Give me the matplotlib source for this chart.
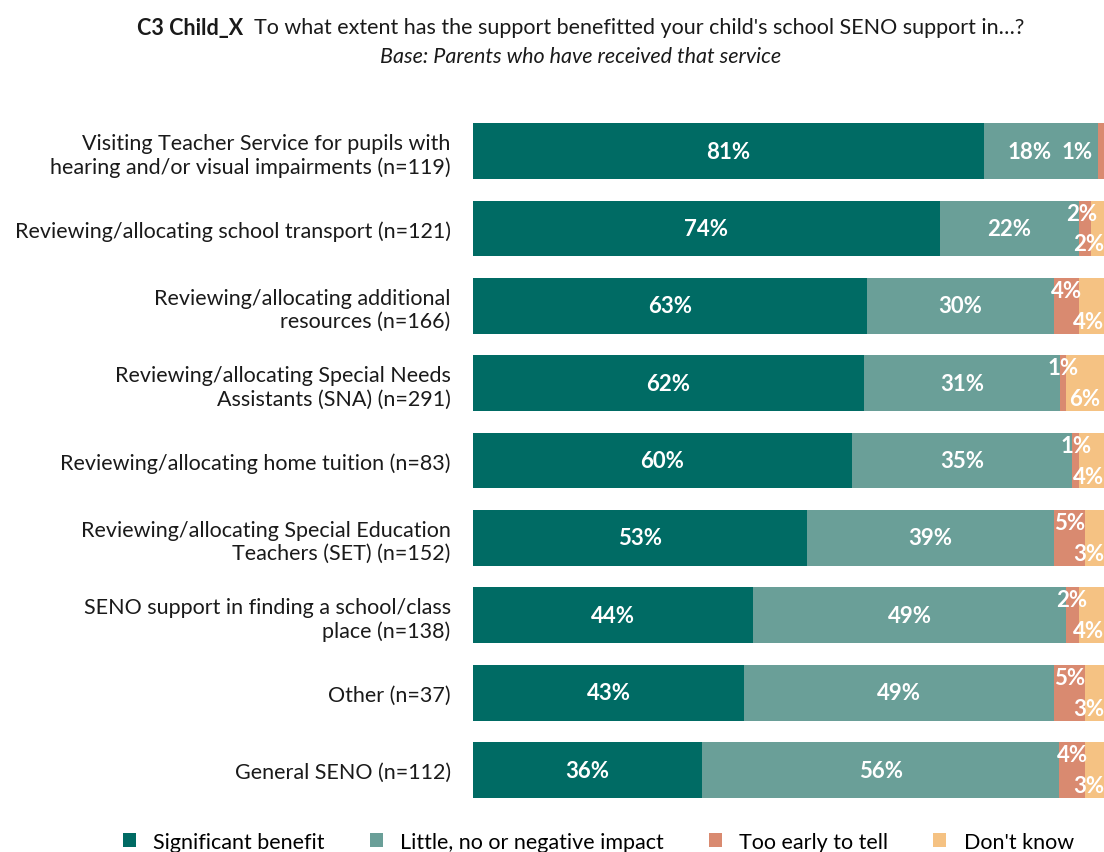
import matplotlib
matplotlib.use("Agg")
import matplotlib.pyplot as plt

plt.rcParams['font.family'] = ['Lato', 'DejaVu Sans']

categories = [
    "Visiting Teacher Service for pupils with\nhearing and/or visual impairments (n=119)",
    "Reviewing/allocating school transport (n=121)",
    "Reviewing/allocating additional\nresources (n=166)",
    "Reviewing/allocating Special Needs\nAssistants (SNA) (n=291)",
    "Reviewing/allocating home tuition (n=83)",
    "Reviewing/allocating Special Education\nTeachers (SET) (n=152)",
    "SENO support in finding a school/class\nplace (n=138)",
    "Other (n=37)",
    "General SENO (n=112)",
]
significant = [81, 74, 63, 62, 60, 53, 44, 43, 36]
little = [18, 22, 30, 31, 35, 39, 49, 49, 56]
too_early = [1, 2, 4, 1, 1, 5, 2, 5, 4]
dont_know = [0, 2, 4, 6, 4, 3, 4, 3, 3]

series_names = ["Significant benefit", "Little, no or negative impact",
                "Too early to tell", "Don't know"]
colors = ["#006B64", "#6A9F98", "#D98A70", "#F5C283"]

fig = plt.figure(figsize=(11.04, 8.53), dpi=100)
ax = fig.add_axes([0.4284, 0.0507, 0.5716, 0.8163])

n = len(categories)
ys = list(range(n))
h = 0.72
allvals = [significant, little, too_early, dont_know]
# 100% stacked: each bar scaled to its own total
totals = [sum(v[i] for v in allvals) for i in range(n)]
scaled = [[v[i] * 100.0 / totals[i] for i in range(n)] for v in allvals]

left = [0.0] * n
for vals, col, name in zip(scaled, colors, series_names):
    ax.barh(ys, vals, left=left, height=h, color=col, label=name)
    left = [l + v for l, v in zip(left, vals)]

lab = dict(color="white", fontsize=16, fontweight="bold", va="center", ha="center")
for i in range(n):
    s, l, t, d = (sc[i] for sc in scaled)
    ax.text(s / 2, i, f"{significant[i]}%", **lab)
    if dont_know[i] == 0:
        # only three segments: small labels sit side by side on the centre line
        ax.text(s + l / 2 - 1.8, i, f"{little[i]}%", **lab)
        ax.text(min(s + l + t / 2, 95.7), i, f"{too_early[i]}%", **lab)
    else:
        ax.text(s + l / 2, i, f"{little[i]}%", **lab)
        ax.text(min(s + l + t / 2, 96.4), i - 0.2, f"{too_early[i]}%", **lab)
        ax.text(min(s + l + t + d / 2, 97.6), i + 0.2, f"{dont_know[i]}%", **lab)

ax.set_xlim(0, 100)
ax.set_ylim(n - 0.5, -0.5)
ax.set_yticks(ys)
ax.set_yticklabels(categories, fontsize=15.5, color="#1a1a1a", linespacing=1.2)
ax.set_xticks([])
ax.tick_params(axis="y", length=0, pad=16)
for sp in ax.spines.values():
    sp.set_visible(False)

# title: bold lead-in followed by regular text, centred as a whole
r = fig.canvas.get_renderer()
t1 = fig.text(0, 0.967, "C3 Child_X", fontsize=15.5, fontweight="bold",
              ha="left", va="center", color="#1a1a1a")
t2 = fig.text(0, 0.967, "  To what extent has the support benefitted your child's school SENO support in\u2026?",
              fontsize=15.5, ha="left", va="center", color="#1a1a1a")
w1 = t1.get_window_extent(r).width / fig.bbox.width
w2 = t2.get_window_extent(r).width / fig.bbox.width
x0 = 0.526 - (w1 + w2) / 2
t1.set_x(x0)
t2.set_x(x0 + w1)
fig.text(0.526, 0.933, "Base: Parents who have received that service", fontsize=15.5,
         style="italic", ha="center", va="center", color="#1a1a1a")

fig.legend(loc="center", bbox_to_anchor=(0.542, 0.012), ncol=4, frameon=False,
           fontsize=15.5, handlelength=0.6, handleheight=0.6, columnspacing=2.1,
           handletextpad=0.8)

fig.savefig("out.png", dpi=100)
